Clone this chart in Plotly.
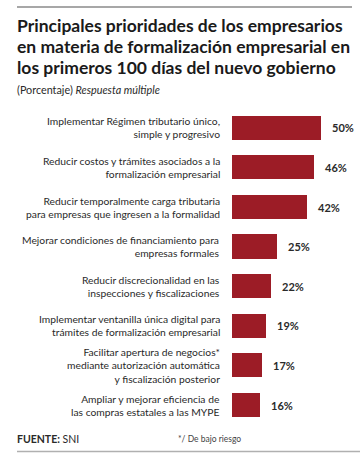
import plotly.graph_objects as go

categories = [
    "Implementar Régimen tributario único,<br>simple y progresivo",
    "Reducir costos y trámites asociados a la<br>formalización empresarial",
    "Reducir temporalmente carga tributaria<br>para empresas que ingresen a la formalidad",
    "Mejorar condiciones de financiamiento para<br>empresas formales",
    "Reducir discrecionalidad en las<br>inspecciones y fiscalizaciones",
    "Implementar ventanilla única digital para<br>trámites de formalización empresarial",
    "Facilitar apertura de negocios*<br>mediante autorización automática<br>y fiscalización posterior",
    "Ampliar y mejorar eficiencia de<br>las compras estatales a las MYPE",
]
values = [50, 46, 42, 25, 22, 19, 17, 16]

title_lines = [
    "Principales prioridades de los empresarios",
    "en materia de formalización empresarial en",
    "los primeros 100 días del nuevo gobierno",
]
subtitle = "(Porcentaje) <i>Respuesta múltiple</i>"
source = "<b>FUENTE:</b> SNI"
note = "*/ De bajo riesgo"

W, H = 362, 462
BAR = "#9c1c26"
FONT = "Lato"

ypos = list(range(len(categories)))

fig = go.Figure()
fig.add_trace(go.Bar(
    x=values, y=ypos, orientation="h",
    marker=dict(color=BAR, line=dict(width=0)),
    width=0.61, hoverinfo="skip",
))

annotations = []
for yi, cat, v in zip(ypos, categories, values):
    annotations.append(dict(
        x=222 / W, xref="paper", y=yi, yref="y", text=cat, showarrow=False,
        xanchor="right", yanchor="middle", align="right",
        font=dict(family=FONT, size=10.3, color="#2a2a2a"),
    ))
    annotations.append(dict(
        x=v, xref="x", y=yi, yref="y", text=f"<b>{v}%</b>", showarrow=False,
        xanchor="left", yanchor="middle", xshift=9,
        font=dict(family=FONT, size=11, color="#2a2a2a"),
    ))

for i, line in enumerate(title_lines):
    annotations.append(dict(
        x=15 / W, xref="paper", y=1 - (25.5 + 21.2 * i) / H, yref="paper",
        text=f"<b>{line}</b>", showarrow=False, xanchor="left", yanchor="middle",
        font=dict(family=FONT, size=17.5, color="#1a1a1a"),
    ))
annotations.append(dict(
    x=15 / W, xref="paper", y=1 - 90 / H, yref="paper", text=subtitle,
    showarrow=False, xanchor="left", yanchor="middle", align="left",
    font=dict(family=FONT, size=10.8, color="#2a2a2a"),
))
annotations.append(dict(
    x=15 / W, xref="paper", y=1 - 439 / H, yref="paper", text=source,
    showarrow=False, xanchor="left", yanchor="middle",
    font=dict(family=FONT, size=10.5, color="#2a2a2a"),
))
annotations.append(dict(
    x=176 / W, xref="paper", y=1 - 439 / H, yref="paper", text=note,
    showarrow=False, xanchor="left", yanchor="middle",
    font=dict(family=FONT, size=8.5, color="#444444"),
))

shapes = [
    dict(type="line", xref="paper", yref="paper", x0=17 / W, x1=352 / W,
         y0=1 - 7 / H, y1=1 - 7 / H, line=dict(color="#8a8a8a", width=1.3)),
    dict(type="line", xref="paper", yref="paper", x0=17 / W, x1=360 / W,
         y0=1 - 451.5 / H, y1=1 - 451.5 / H, line=dict(color="#b0b0b0", width=1.5)),
]

fig.update_layout(
    width=W, height=H, margin=dict(l=0, r=0, t=0, b=0),
    paper_bgcolor="white", plot_bgcolor="white",
    showlegend=False, bargap=0,
    xaxis=dict(domain=[232 / W, 1], range=[0, (W - 232) / 1.78],
               visible=False, fixedrange=True),
    yaxis=dict(domain=[1 - 424.8 / H, 1 - 108.2 / H], range=[7.5, -0.5],
               visible=False, fixedrange=True),
    annotations=annotations, shapes=shapes,
)

fig.write_html("out.html")
